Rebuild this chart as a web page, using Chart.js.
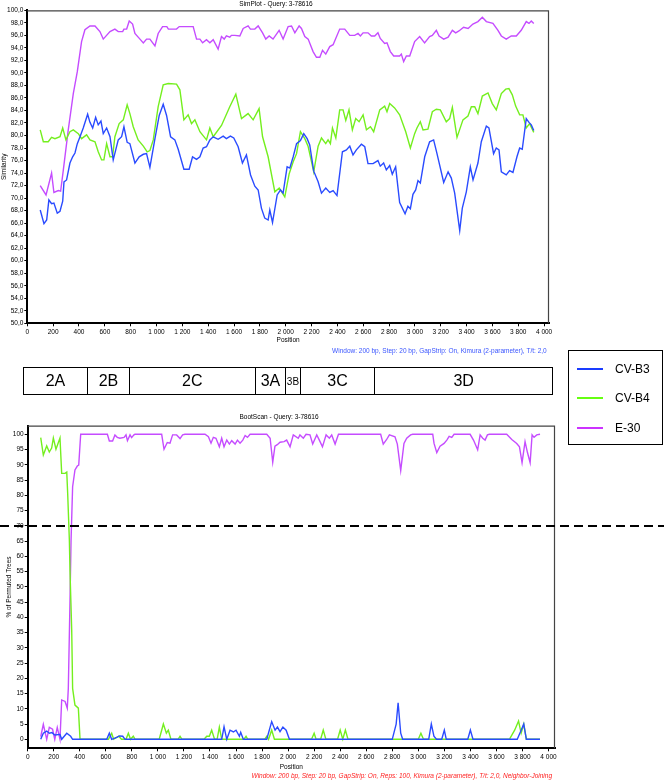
<!DOCTYPE html>
<html>
<head>
<meta charset="utf-8">
<script src="https://cdn.jsdelivr.net/npm/chart.js@4.4.1/dist/chart.umd.min.js"></script>
<style>
html,body{margin:0;padding:0;background:#fff;}
body{width:664px;height:780px;position:relative;overflow:hidden;font-family:"Liberation Sans",Arial,sans-serif;}
#simCanvas{position:absolute;left:0;top:0;}
#bootCanvas{position:absolute;left:0;top:410px;}
#genome{position:absolute;left:0;top:0;width:664px;height:780px;pointer-events:none;}
.gbox{position:absolute;border:1.5px solid #000;box-sizing:border-box;}
.gdiv{position:absolute;width:1.5px;background:#000;}
.glab{position:absolute;display:flex;align-items:center;justify-content:center;color:#000;}
#legend{position:absolute;left:568px;top:350px;width:95px;height:95px;border:1.5px solid #000;box-sizing:border-box;background:#fff;}
.lline{position:absolute;left:8px;width:26px;height:2px;}
.ltext{position:absolute;left:46px;font-size:12px;line-height:14px;color:#000;}
</style>
</head>
<body>
<canvas id="simCanvas" width="560" height="360"></canvas>
<canvas id="bootCanvas" width="664" height="370"></canvas>
<div id="genome"></div>
<div id="legend"></div>
<script>
// ---------------- DATA ----------------
const seriesNames = ['CV-B3', 'CV-B4', 'E-30'];
const xTicks = [0,200,400,600,800,1000,1200,1400,1600,1800,2000,2200,2400,2600,2800,3000,3200,3400,3600,3800,4000];
const simYTicks = [50,52,54,56,58,60,62,64,66,68,70,72,74,76,78,80,82,84,86,88,90,92,94,96,98,100];
const bootYTicks = [0,5,10,15,20,25,30,35,40,45,50,55,60,65,70,75,80,85,90,95,100];
const genomeRegions = ['2A','2B','2C','3A','3B','3C','3D'];
const bootThreshold = 70;
const simTitle = 'SimPlot - Query: 3-78616';
const bootTitle = 'BootScan - Query: 3-78616';
const simCaption = 'Window: 200 bp, Step: 20 bp, GapStrip: On, Kimura (2-parameter), T/t: 2,0';
const bootCaption = 'Window: 200 bp, Step: 20 bp, GapStrip: On, Reps: 100, Kimura (2-parameter), T/t: 2,0, Neighbor-Joining';

// SimPlot: [position, similarity %]
const simB3 = [[100,68.1],[129,65.9],[150,66.5],[167,69.7],[188,69.1],[206,69.2],[232,67.6],[253,67.9],[274,69.5],[284,72.6],[304,72.9],[330,75.6],[351,76.6],[369,77.2],[387,78.7],[408,79.8],[433,81.2],[467,83.4],[485,82.1],[506,81.2],[529,82.9],[549,81.7],[570,82.3],[588,80.3],[614,81.2],[640,79.8],[665,76.1],[704,79.3],[730,79.8],[748,81.4],[773,78.9],[794,78.7],[833,75.6],[866,76.6],[898,77.0],[923,77.1],[949,74.9],[988,79.5],[1021,83.2],[1052,85.0],[1078,83.2],[1109,79.8],[1142,79.3],[1168,77.8],[1212,74.6],[1253,74.6],[1279,76.6],[1310,76.2],[1336,76.6],[1361,78.0],[1387,78.2],[1413,79.3],[1439,79.8],[1477,79.4],[1516,79.9],[1541,79.5],[1572,79.9],[1598,79.6],[1632,78.2],[1665,75.6],[1696,76.9],[1728,73.7],[1761,71.9],[1787,71.3],[1812,68.4],[1838,66.8],[1864,66.5],[1877,68.1],[1898,66.1],[1934,70.5],[1960,71.3],[1980,70.8],[2011,75.0],[2032,74.8],[2058,76.6],[2084,78.7],[2114,79.2],[2140,80.3],[2166,79.5],[2186,78.5],[2217,74.3],[2251,72.6],[2277,70.8],[2310,71.6],[2341,70.9],[2367,71.2],[2397,70.4],[2439,77.4],[2470,77.7],[2496,78.3],[2521,76.9],[2547,77.7],[2586,78.6],[2612,78.2],[2637,75.5],[2676,75.5],[2714,76.0],[2732,75.1],[2758,75.6],[2779,74.5],[2805,75.2],[2825,73.8],[2851,75.0],[2882,69.3],[2924,67.5],[2946,68.7],[2965,68.3],[2985,70.6],[3006,71.3],[3024,72.8],[3042,72.4],[3076,76.6],[3114,79.0],[3145,79.3],[3171,77.1],[3223,72.5],[3257,74.2],[3282,73.2],[3308,70.8],[3347,64.8],[3367,68.4],[3398,71.0],[3429,75.0],[3450,72.9],[3488,75.6],[3514,79.0],[3553,81.5],[3573,81.2],[3609,77.1],[3630,78.0],[3651,77.7],[3669,74.2],[3707,73.7],[3733,74.4],[3759,74.1],[3790,76.6],[3811,78.0],[3831,77.8],[3862,82.7],[3883,82.1],[3901,81.7],[3920,80.8]];
const simB4 = [[100,80.9],[124,79.0],[162,79.0],[188,79.7],[214,79.5],[253,79.8],[274,81.2],[299,79.3],[330,80.6],[356,80.9],[395,80.3],[420,79.5],[459,80.1],[485,79.3],[524,79.0],[549,77.4],[575,76.1],[593,76.1],[614,78.7],[640,76.6],[660,76.6],[678,79.8],[711,81.9],[743,82.5],[773,84.9],[794,83.5],[820,81.4],[858,79.3],[898,78.3],[928,77.4],[949,77.6],[975,79.3],[1013,84.6],[1052,88.1],[1091,88.3],[1155,88.2],[1181,87.3],[1212,82.5],[1245,83.3],[1271,81.9],[1297,82.5],[1336,80.6],[1387,79.3],[1413,81.2],[1439,79.8],[1503,81.6],[1567,84.6],[1614,86.6],[1658,82.7],[1709,83.5],[1748,82.5],[1794,84.3],[1821,79.8],[1864,76.6],[1916,71.0],[1950,71.6],[1993,70.2],[2027,73.9],[2058,75.8],[2084,77.1],[2114,80.6],[2148,79.5],[2173,78.3],[2217,74.2],[2251,78.3],[2277,79.6],[2310,78.7],[2328,79.3],[2346,78.7],[2362,81.2],[2388,79.6],[2418,84.1],[2444,84.1],[2465,82.4],[2490,84.1],[2516,80.9],[2542,82.7],[2568,82.2],[2599,83.3],[2625,80.9],[2656,81.4],[2681,80.6],[2728,84.1],[2766,84.7],[2784,83.8],[2805,85.1],[2843,84.4],[2882,83.3],[2929,80.6],[2965,78.0],[2998,80.3],[3016,81.2],[3042,82.2],[3063,80.9],[3101,81.0],[3135,83.8],[3166,84.2],[3197,84.1],[3243,82.2],[3269,82.7],[3290,84.5],[3326,79.7],[3372,82.5],[3411,83.1],[3437,84.6],[3463,84.6],[3488,83.5],[3522,86.3],[3566,86.8],[3599,85.1],[3630,84.1],[3669,86.7],[3703,87.4],[3728,87.5],[3754,86.5],[3780,84.7],[3811,83.3],[3836,83.3],[3862,81.2],[3888,81.9],[3920,80.5]];
const simE30 = [[100,72.0],[145,70.5],[188,74.0],[206,70.9],[240,71.2],[258,71.1],[279,74.5],[317,80.9],[356,86.7],[387,90.2],[420,95.0],[446,96.9],[485,97.5],[524,97.5],[562,96.6],[588,95.4],[640,96.6],[678,97.0],[704,96.6],[738,96.6],[748,97.0],[769,97.0],[789,98.3],[815,97.8],[833,96.3],[872,95.4],[898,94.8],[923,95.4],[949,95.4],[988,94.3],[1013,96.3],[1047,97.4],[1080,97.4],[1092,97.0],[1155,97.0],[1176,97.4],[1284,97.4],[1310,95.4],[1336,95.4],[1357,94.8],[1387,95.3],[1413,94.8],[1439,95.3],[1477,93.8],[1503,95.8],[1524,95.4],[1541,95.9],[1567,95.7],[1580,96.0],[1606,96.0],[1645,95.9],[1671,97.1],[1709,97.5],[1727,97.0],[1761,97.0],[1787,97.5],[1821,96.4],[1846,95.4],[1872,95.9],[1902,95.4],[1949,96.8],[1980,95.4],[2019,97.4],[2045,97.5],[2071,96.4],[2104,97.5],[2122,97.1],[2148,95.8],[2174,95.4],[2212,93.4],[2238,92.5],[2264,92.5],[2285,93.6],[2310,93.0],[2341,94.2],[2367,94.5],[2418,97.0],[2457,97.0],[2496,96.0],[2534,96.0],[2560,96.3],[2578,95.9],[2599,96.4],[2637,96.4],[2663,95.9],[2689,95.9],[2714,96.4],[2732,95.5],[2766,94.7],[2784,94.8],[2810,93.4],[2836,92.7],[2882,92.7],[2895,93.0],[2913,91.8],[2934,92.7],[2960,92.7],[2998,95.0],[3037,95.8],[3075,94.8],[3114,95.8],[3135,96.0],[3166,96.8],[3187,95.9],[3223,95.4],[3257,95.7],[3290,96.8],[3316,96.4],[3341,96.7],[3377,97.3],[3412,97.1],[3449,97.8],[3488,98.2],[3522,98.9],[3553,98.2],[3604,97.9],[3643,96.8],[3669,95.9],[3707,95.4],[3746,95.9],[3785,95.9],[3823,96.8],[3862,98.2],[3883,97.9],[3901,98.3],[3920,97.9]];

// BootScan: [position, % of permuted trees]
const bootB3 = [[100,0],[120,2],[146,2.7],[166,2],[186,2.2],[208,1.4],[248,1.6],[261,0],[300,2],[330,1],[345,0],[607,0],[627,2],[645,0],[683,0.6],[705,1.1],[730,1],[748,0],[1490,0],[1508,4.1],[1529,0],[1554,3],[1580,2.4],[1600,3],[1626,1],[1636,2.3],[1656,0],[1836,0],[1874,5.8],[1900,3],[1918,4],[1938,2.5],[1960,4],[1985,3],[2010,0],[2800,0],[2830,5],[2845,12],[2865,2],[2880,0],[3080,0],[3100,5],[3120,1],[3140,0],[3180,0],[3200,3],[3215,0],[3380,0],[3400,3],[3420,0],[3760,0],[3790,3],[3810,5],[3830,0],[3935,0]];
const bootB4 = [[100,98.9],[120,93.2],[146,96.2],[166,94.2],[184,95.5],[197,98.8],[217,95.1],[248,98.8],[261,87.2],[287,87.2],[300,87.6],[307,80.7],[320,65.3],[325,55],[338,35.8],[345,16.7],[363,11.2],[389,10.2],[402,0],[620,0],[645,2],[660,0],[700,1],[720,0],[755,0],[773,2],[790,0],[811,1],[825,0],[1010,0],[1042,5],[1065,2],[1080,3],[1100,0],[1155,0],[1170,1],[1185,0],[1355,0],[1375,1],[1395,1],[1413,3],[1435,0],[1455,0],[1472,4],[1490,0],[1660,0],[1677,1],[1690,0],[1820,0],[1836,1],[1850,0],[1874,3],[1895,0],[2180,0],[2200,2],[2215,0],[2250,0],[2270,3],[2290,0],[2380,0],[2400,3],[2420,0],[2440,3],[2460,0],[3000,0],[3020,2],[3040,0],[3700,0],[3740,3],[3770,6],[3790,2],[3810,5],[3830,0],[3935,0]];
const bootE30 = [[100,0.9],[120,4.9],[146,0],[166,3.9],[191,3.3],[208,0],[227,3.9],[248,0],[261,12.9],[287,12.4],[304,10.2],[312,16.7],[325,45.7],[333,65.3],[345,82.8],[363,88.3],[381,89.6],[392,89.9],[407,100],[612,100],[627,97.8],[652,97.8],[670,99.8],[688,99],[708,98.7],[740,99],[755,99.8],[766,97.9],[786,99.8],[798,98.9],[816,99.8],[824,100],[1029,100],[1047,95.1],[1072,97.3],[1093,97.1],[1113,99.8],[1144,99.8],[1170,98.6],[1190,99.8],[1208,100],[1362,100],[1388,99.2],[1408,97.1],[1426,99],[1446,98.7],[1472,95.9],[1490,98.7],[1508,95.9],[1529,98.1],[1549,96.8],[1567,97.9],[1593,96.8],[1611,98.1],[1631,97.1],[1652,98.1],[1670,99.6],[1688,99],[1708,100],[1836,100],[1862,98.7],[1882,90.8],[1899,96.1],[1917,96.6],[1938,97.4],[1969,97.6],[1989,98.1],[2015,95.9],[2040,99.8],[2078,98.7],[2091,99.8],[2117,98.7],[2138,100],[2168,99.8],[2189,96.8],[2220,99.8],[2240,98.1],[2264,95.9],[2292,99.8],[2317,98.7],[2335,99.8],[2361,96.8],[2387,100],[2711,100],[2731,96.8],[2757,98.3],[2778,99.8],[2821,99.2],[2839,96.8],[2865,88.1],[2890,97],[2911,98.7],[2941,99.8],[2957,100],[3111,100],[3121,97],[3142,94],[3167,96.1],[3198,97],[3219,98.1],[3237,99.3],[3257,99],[3275,100],[3398,100],[3424,98.1],[3456,94.9],[3475,99.8],[3495,98.7],[3513,98.1],[3531,99.8],[3546,100],[3679,100],[3718,98.3],[3756,97],[3777,95.9],[3797,90.7],[3820,97.6],[3838,94.1],[3859,90.7],[3874,99.8],[3889,99],[3910,99.8],[3935,100]];

// ---------------- STYLE / LAYOUT ----------------
const lineColors = ['#2a4bff', '#74ef1e', '#c54cff'];
const legendColors = ['#1a3cff', '#66ff11', '#cc33ff'];
const FAM = '"Liberation Sans", Arial, sans-serif';
const SMALL = {family: FAM, size: 6.5};

const fmtPos = v => v >= 1000 ? Math.floor(v / 1000) + ' ' + String(v % 1000).padStart(3, '0') : String(v);
const fmtSim = v => v.toFixed(1).replace('.', ',');

function lineDs(label, pts, color) {
  return {label, data: pts.map(p => ({x: p[0], y: p[1]})), borderColor: color, backgroundColor: color,
    borderWidth: 1.4, pointRadius: 0, pointHoverRadius: 0, showLine: true, tension: 0, fill: false};
}

function xScale(max, h, titlePad) {
  return {
    type: 'linear', min: 0, max: max,
    afterBuildTicks: s => { s.ticks = xTicks.map(v => ({value: v})); },
    afterFit: s => { s.height = h; },
    ticks: {autoSkip: false, maxRotation: 0, minRotation: 0, padding: 2, color: '#000', font: SMALL, callback: v => fmtPos(v)},
    grid: {display: true, drawOnChartArea: false, drawTicks: true, tickLength: 3, color: '#000', lineWidth: 1},
    border: {display: true, color: '#000', width: 2},
    title: {display: true, text: 'Position', color: '#000', font: SMALL, padding: {top: 0, bottom: titlePad}}
  };
}
function yScale(min, max, ticksArr, fmt, w, title, titlePad) {
  return {
    type: 'linear', min: min, max: max,
    afterBuildTicks: s => { s.ticks = ticksArr.map(v => ({value: v})); },
    afterFit: s => { s.width = w; },
    ticks: {autoSkip: false, padding: 1, color: '#000', font: SMALL, callback: v => fmt(v)},
    grid: {display: true, drawOnChartArea: false, drawTicks: true, tickLength: 3, color: '#000', lineWidth: 1},
    border: {display: true, color: '#000', width: 2},
    title: {display: true, text: title, color: '#000', font: SMALL, padding: {top: titlePad, bottom: 0}}
  };
}
const framePlugin = {
  id: 'frame',
  beforeDatasetsDraw(chart) {
    const a = chart.chartArea, c = chart.ctx;
    c.save(); c.strokeStyle = '#444'; c.lineWidth = 1.2;
    c.beginPath();
    c.moveTo(a.left, a.top + 0.5); c.lineTo(a.right - 0.5, a.top + 0.5); c.lineTo(a.right - 0.5, a.bottom);
    c.stroke(); c.restore();
  }
};
function textPlugin(id, items) {
  return {
    id: id,
    afterDraw(chart) {
      const c = chart.ctx;
      items.forEach(t => {
        c.save(); c.font = t.font; c.fillStyle = t.color; c.textAlign = t.align; c.textBaseline = 'middle';
        c.fillText(t.text, t.x, t.y); c.restore();
      });
    }
  };
}
const thresholdPlugin = {
  id: 'threshold',
  afterDatasetsDraw(chart) {
    const y = Math.round(chart.scales.y.getPixelForValue(bootThreshold));
    const c = chart.ctx;
    c.save(); c.strokeStyle = '#000'; c.lineWidth = 2; c.setLineDash([9, 5]);
    c.beginPath(); c.moveTo(0, y); c.lineTo(chart.width, y); c.stroke(); c.restore();
  }
};

const common = {
  responsive: false, animation: false, devicePixelRatio: 1,
  plugins: {legend: {display: false}, tooltip: {enabled: false}, title: {display: false}},
  events: []
};

new Chart(document.getElementById('simCanvas'), {
  type: 'scatter',
  data: {datasets: [lineDs(seriesNames[0], simB3, lineColors[0]), lineDs(seriesNames[1], simB4, lineColors[1]), lineDs(seriesNames[2], simE30, lineColors[2])]},
  options: Object.assign({}, common, {
    layout: {padding: {top: 10.3, right: 11, left: 0, bottom: 0}},
    scales: {
      x: xScale(4038, 36.7, 16),
      y: yScale(50, 100, simYTicks, fmtSim, 27.3, 'Similarity', 0.2)
    }
  }),
  plugins: [framePlugin, textPlugin('simText', [
    {text: simTitle, x: 276, y: 3.8, font: '6.5px ' + FAM, color: '#000', align: 'center'},
    {text: simCaption, x: 546.7, y: 351.7, font: '6.5px ' + FAM, color: '#3a55ff', align: 'right'}
  ])]
});

new Chart(document.getElementById('bootCanvas'), {
  type: 'scatter',
  data: {datasets: [lineDs(seriesNames[0], bootB3, lineColors[0]), lineDs(seriesNames[1], bootB4, lineColors[1]), lineDs(seriesNames[2], bootE30, lineColors[2])]},
  options: Object.assign({}, common, {
    layout: {padding: {top: 15.7, right: 109, left: 0, bottom: 0}},
    scales: {
      x: xScale(4050, 31.7, 9),
      y: yScale(-2.95, 102.82, bootYTicks, v => String(v), 27.7, '% of Permuted Trees', 5.1)
    }
  }),
  plugins: [framePlugin, thresholdPlugin, textPlugin('bootText', [
    {text: bootTitle, x: 279, y: 7.7, font: '6.5px ' + FAM, color: '#000', align: 'center'},
    {text: bootCaption, x: 552, y: 366, font: 'italic 6.5px ' + FAM, color: '#ff2222', align: 'right'}
  ])]
});

// Genome map (layout in px)
(function () {
  const g = document.getElementById('genome');
  const edges = [23.3, 87.7, 129.3, 255.3, 285.7, 300.3, 374.7, 552.7];
  const top = 367.3, h = 28;
  const box = document.createElement('div');
  box.className = 'gbox';
  box.style.cssText = `left:${edges[0]}px;top:${top}px;width:${edges[7] - edges[0]}px;height:${h}px;`;
  g.appendChild(box);
  for (let i = 1; i < edges.length - 1; i++) {
    const d = document.createElement('div');
    d.className = 'gdiv';
    d.style.cssText = `left:${edges[i] - 0.75}px;top:${top}px;height:${h}px;`;
    g.appendChild(d);
  }
  genomeRegions.forEach((name, i) => {
    const l = document.createElement('div');
    l.className = 'glab';
    l.textContent = name;
    l.style.cssText = `left:${edges[i]}px;top:${top}px;width:${edges[i + 1] - edges[i]}px;height:${h}px;font-size:${name === '3B' ? 10 : 16}px;`;
    g.appendChild(l);
  });
  // Legend
  const lg = document.getElementById('legend');
  const ys = [18, 47, 77];
  seriesNames.forEach((n, i) => {
    const ln = document.createElement('div');
    ln.className = 'lline';
    ln.style.cssText = `top:${ys[i] - 1}px;background:${legendColors[i]};`;
    lg.appendChild(ln);
    const tx = document.createElement('div');
    tx.className = 'ltext';
    tx.textContent = n;
    tx.style.top = (ys[i] - 7) + 'px';
    lg.appendChild(tx);
  });
})();
</script>
</body>
</html>
